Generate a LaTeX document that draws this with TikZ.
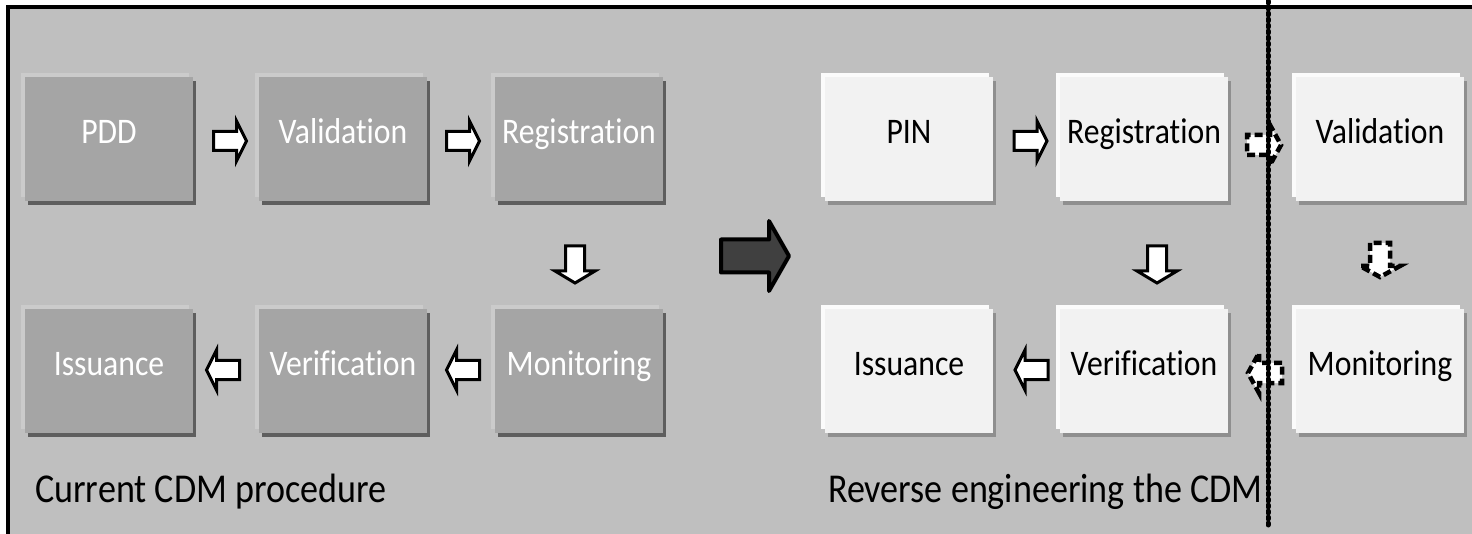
\documentclass[tikz,border=0pt]{standalone}
\usepackage{fontspec}
\setmainfont[FakeStretch=0.88, Ligatures=NoCommon]{Carlito}
\usetikzlibrary{calc,shadows}
\definecolor{bg}{HTML}{BFBFBF}
\definecolor{lfill}{HTML}{A5A5A5}
\definecolor{lhi}{HTML}{CBCBCB}
\definecolor{lsh}{HTML}{5E5E5E}
\definecolor{rfill}{HTML}{F2F2F2}
\definecolor{rhi}{HTML}{FBFBFB}
\definecolor{rsh}{HTML}{8F8F8F}
\definecolor{bigfill}{HTML}{404040}
\tikzset{
  harrow/.pic={\path[pic actions] (-16.5pt,-9.5pt) -- (6.5pt,-9.5pt) -- (6.5pt,-20pt) -- (16.5pt,0pt) -- (6.5pt,20pt) -- (6.5pt,9.5pt) -- (-16.5pt,9.5pt) -- cycle;},
  varrow/.pic={\path[pic actions] (-19pt,-9.5pt) -- (6pt,-9.5pt) -- (6pt,-20pt) -- (18pt,0pt) -- (6pt,20pt) -- (6pt,9.5pt) -- (-19pt,9.5pt) -- cycle;},
  darrow/.pic={\path[pic actions] (-17pt,-10pt) -- (6pt,-10pt) -- (6pt,-20pt) -- (17pt,0pt) -- (6pt,20pt) -- (6pt,10pt) -- (-17pt,10pt) -- cycle;},
  bigarrow/.pic={\path[pic actions] (-34pt,-16.5pt) -- (14pt,-16.5pt) -- (14pt,-35pt) -- (34pt,0pt) -- (14pt,35pt) -- (14pt,16.5pt) -- (-34pt,16.5pt) -- cycle;},
}
\begin{document}
\begin{tikzpicture}[x=1pt,y=-1pt,
  boxbase/.style={minimum width=168pt, minimum height=124pt, inner sep=0pt,
    text height=20pt, text depth=10pt, font=\fontsize{36}{40}\selectfont},
  lbox/.style={boxbase, fill=lfill, text=white,
    general shadow={fill=lhi, shadow xshift=-4pt, shadow yshift=4pt},
    general shadow={fill=lsh, shadow xshift=3pt, shadow yshift=-4pt}},
  rbox/.style={boxbase, fill=rfill, text=black,
    general shadow={fill=rhi, shadow xshift=-4pt, shadow yshift=4pt},
    general shadow={fill=rsh, shadow xshift=3pt, shadow yshift=-4pt}},
  sarrow/.style={draw=black, fill=white, line width=3pt, line join=miter},
  dsarrow/.style={draw=black, fill=white, line width=4.5pt, dash pattern=on 8pt off 4pt},
  barrow/.style={draw=black, fill=bigfill, line width=4pt, line join=round},
  dotline/.style={line width=5pt, dash pattern=on 2pt off 4pt, line cap=round},
  lbl/.style={font=\fontsize{41}{46}\selectfont, inner sep=0pt}]
\useasboundingbox (0,0) rectangle (1472,534);
\fill[white] (0,0) rectangle (1472,534);
\fill[bg] (8,7) rectangle (1472,534);
\draw[line width=4pt] (8,534) -- (8,7) -- (1472,7);

% left group
\node[lbox] (pdd) at (109,139) {PDD};
\node[lbox] (val) at (343,139) {Validation};
\node[lbox] (reg) at (579,139) {Registration};
\node[lbox] (mon) at (579,371) {Monitoring};
\node[lbox] (ver) at (343,371) {Verification};
\node[lbox] (iss) at (109,371) {Issuance};

% right group
\node[rbox] (pin) at (909,139) {PIN};
\node[rbox] (rreg) at (1144,139) {Registration};
\node[rbox] (rval) at (1380,139) {Validation};
\node[rbox] (rmon) at (1380,371) {Monitoring};
\node[rbox] (rver) at (1144,371) {Verification};
\node[rbox] (riss) at (909,371) {Issuance};

% left arrows
\pic[sarrow] at ($(pdd.east)!0.5!(val.west)+(4,2)$) {harrow};
\pic[sarrow] at ($(val.east)!0.5!(reg.west)+(2,2)$) {harrow};
\pic[sarrow, rotate=-90] at ($(reg.south)!0.5!(mon.north)+(-4,10)$) {varrow};
\pic[sarrow, rotate=180] at ($(mon.west)!0.5!(ver.east)+(2,-1)$) {harrow};
\pic[sarrow, rotate=180] at ($(ver.west)!0.5!(iss.east)+(-3,-1)$) {harrow};

% big arrow
\pic[barrow] at ($(reg.south east)!0.5!(riss.north west)+(11,1)$) {bigarrow};

% right arrows
\pic[sarrow] at ($(pin.east)!0.5!(rreg.west)+(4,2)$) {harrow};
\pic[sarrow, rotate=-90] at ($(rreg.south)!0.5!(rmon.north -| rreg.south)+(13,10)$) {varrow};
\pic[sarrow, rotate=180] at ($(rver.west)!0.5!(riss.east)+(5,-1)$) {harrow};

% dashed arrows
\pic[dsarrow] at ($(rreg.east)!0.5!(rval.west)+(2,6)$) {darrow};
\pic[dsarrow, rotate=-90] at ($(rval.south)!0.5!(rmon.north)+(0,5)$) {darrow};
\pic[dsarrow, rotate=180] at ($(rmon.west)!0.5!(rver.east)+(3,2)$) {darrow};

% dotted separator
\coordinate (dtop) at (1268,1);
\coordinate (dbot) at (1268,528);
\draw[dotline] (dtop) -- (dbot);

% captions
\node[lbl, anchor=base west] (cap1) at (35,502) {Current CDM procedure};
\node[lbl, anchor=base west] (cap2) at (828,502) {Reverse engineering the CDM};
\end{tikzpicture}
\end{document}
